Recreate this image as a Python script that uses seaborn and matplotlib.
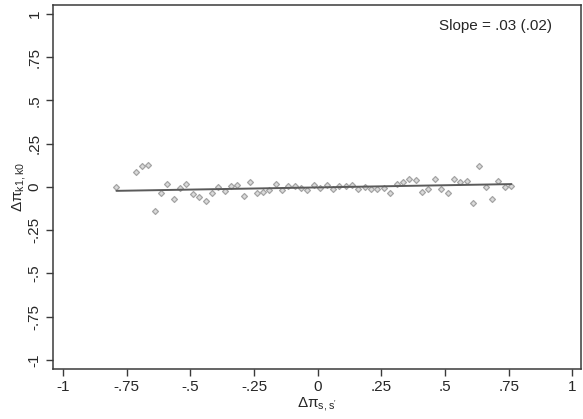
import numpy as np
import pandas as pd
import matplotlib
matplotlib.use('Agg')
import matplotlib.pyplot as plt
import seaborn as sns

# binned scatter values
bin_x = [-0.79, -0.715, -0.69, -0.665, -0.64, -0.615, -0.59, -0.565, -0.54, -0.515,
         -0.49, -0.465, -0.44, -0.415, -0.39, -0.365, -0.34, -0.315, -0.29, -0.265,
         -0.24, -0.215, -0.19, -0.165, -0.14, -0.115, -0.09, -0.065, -0.04, -0.015,
         0.01, 0.035, 0.06, 0.085, 0.11, 0.135, 0.16, 0.185, 0.21, 0.235,
         0.26, 0.285, 0.31, 0.335, 0.36, 0.385, 0.41, 0.435, 0.46, 0.485,
         0.51, 0.535, 0.56, 0.585, 0.61, 0.635, 0.66, 0.685, 0.71, 0.735, 0.76]
bin_y = [0.00, 0.088, 0.121, 0.125, -0.14, -0.036, 0.019, -0.071, -0.008, 0.016,
         -0.039, -0.056, -0.083, -0.035, 0.0, -0.021, 0.006, 0.008, -0.052, 0.031,
         -0.036, -0.027, -0.019, 0.017, -0.017, 0.006, 0.006, -0.004, -0.016, 0.008,
         -0.004, 0.012, -0.01, 0.006, 0.006, 0.012, -0.01, -0.002, -0.013, -0.012,
         -0.008, -0.036, 0.019, 0.027, 0.045, 0.040, -0.027, -0.013, 0.045, -0.013,
         -0.035, 0.046, 0.031, 0.033, -0.094, 0.123, 0.0, -0.073, 0.033, -0.002, 0.004]

# fitted line endpoints
fit_x = [-0.79, 0.76]
fit_y = [-0.023, 0.016]

ticks = [-1, -0.75, -0.5, -0.25, 0, 0.25, 0.5, 0.75, 1]
tick_labels = ['-1', '-.75', '-.5', '-.25', '0', '.25', '.5', '.75', '1']
slope_text = 'Slope = .03 (.02)'

df = pd.DataFrame({'x': bin_x, 'y': bin_y})
fit = pd.DataFrame({'x': fit_x, 'y': fit_y})

sns.set_style('white')
plt.rcParams['font.family'] = ['Liberation Sans', 'DejaVu Sans']
plt.rcParams['mathtext.fontset'] = 'custom'
plt.rcParams['mathtext.rm'] = 'Liberation Sans'

fig = plt.figure(figsize=(5.83, 4.19), dpi=100)
ax = fig.add_axes([0.0905, 0.119, 0.9065, 0.87])

sns.scatterplot(data=df, x='x', y='y', ax=ax, marker='D', s=9,
                color='#dadada', edgecolor='#a4a4a4', linewidth=0.9, zorder=2)
sns.lineplot(data=fit, x='x', y='y', ax=ax, color='#5a5a5a', linewidth=1.4, zorder=3)

ax.set_xlim(-1.04, 1.035)
ax.set_ylim(-1.054, 1.054)
ax.set_xticks(ticks)
ax.set_xticklabels(tick_labels)
ax.set_yticks(ticks)
ax.set_yticklabels(tick_labels, rotation=90, va='center')

for sp in ax.spines.values():
    sp.set_color('#3a3a3a')
    sp.set_linewidth(1.1)
ax.tick_params(axis='both', direction='out', length=5, width=1, color='#3a3a3a',
               labelsize=11, pad=3, bottom=True, left=True)

ax.set_xlabel("Δπ$_{\\mathregular{s,s'}}$", fontsize=11, labelpad=1)
ax.set_ylabel("Δπ$_{\\mathregular{k1,k0}}$", fontsize=11, labelpad=-1)

ax.text(0.921, 0.93, slope_text, ha='right', va='center', fontsize=11)

fig.savefig('out.png', dpi=100)
